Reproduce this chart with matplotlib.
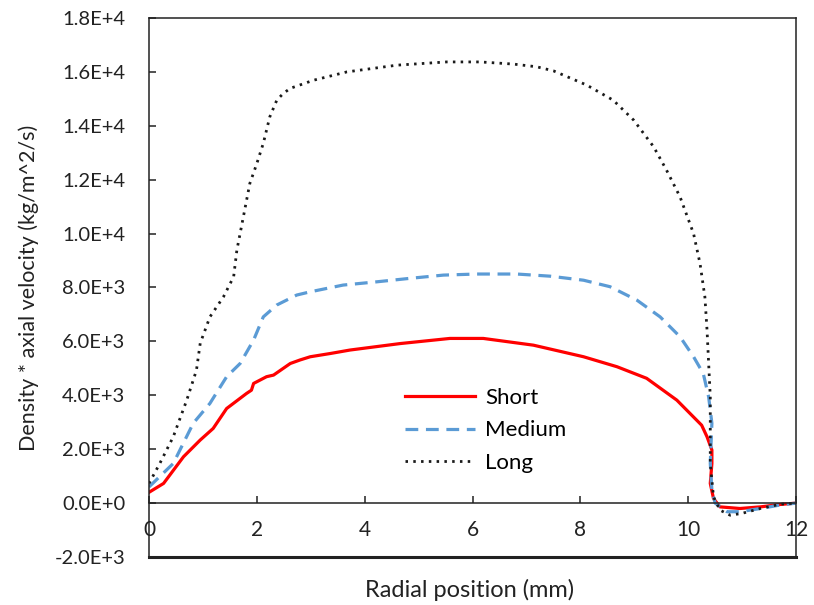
import matplotlib
matplotlib.use("Agg")
import matplotlib.pyplot as plt
from matplotlib.ticker import FuncFormatter, FixedLocator
import math

# ---- data ----
short_x = [0, 0.27, 0.64, 0.95, 1.19, 1.44, 1.81, 1.9, 1.94, 2.18, 2.31, 2.62, 2.80, 2.99, 3.36, 3.73,
           4.66, 5.58, 6.2, 7.13, 8.06, 8.68, 9.23, 9.79, 10.25, 10.35, 10.44, 10.44, 10.41, 10.47,
           10.59, 10.96, 11.34, 11.71, 12.0]
short_y = [400, 730, 1720, 2340, 2770, 3510, 4070, 4190, 4440, 4690, 4750, 5180, 5310, 5430, 5550, 5680,
           5920, 6110, 6110, 5860, 5430, 5060, 4630, 3820, 2890, 2460, 1970, 1470, 730, 170,
           -140, -200, -140, -50, 0]

medium_x = [0, 0.45, 0.82, 1.13, 1.44, 1.69, 1.94, 2.12, 2.37, 2.74, 2.99, 3.6, 4.22, 4.84, 5.46, 6.08,
            6.82, 7.44, 8.06, 8.55, 9.05, 9.48, 9.85, 10.1, 10.28, 10.38, 10.44, 10.41, 10.44, 10.5,
            10.72, 10.96, 11.34, 11.71, 12.0]
medium_y = [600, 1470, 2960, 3700, 4690, 5180, 6050, 6910, 7350, 7720, 7840, 8090, 8210, 8340, 8460, 8500,
            8500, 8420, 8270, 8030, 7530, 6910, 6170, 5430, 4810, 3940, 2960, 1480, 480, 0,
            -320, -320, -200, -70, 0]

long_x = [0, 0.2, 0.45, 0.7, 0.88, 0.95, 1.13, 1.38, 1.57, 1.63, 1.75, 1.87, 2.0, 2.12, 2.24, 2.37,
          2.49, 2.62, 3.05, 3.67, 4.6, 5.52, 6.14, 6.76, 7.19, 7.5, 8.12, 8.61, 8.99, 9.36, 9.6, 9.85,
          10.1, 10.22, 10.31, 10.35, 10.41, 10.41, 10.47, 10.59, 10.78, 11.0, 11.34, 11.71, 12.0]
long_y = [730, 1470, 2460, 3820, 4930, 5930, 6910, 7650, 8400, 9390, 10620, 11860, 12600, 13350, 14330, 14950,
          15200, 15390, 15690, 16000, 16250, 16370, 16370, 16290, 16190, 16040, 15510, 14950, 14210, 13220,
          12350, 11360, 10000, 8890, 7650, 6420, 3940, 1470, 230, -260, -450, -380, -200, -40, 0]

series_labels = ["Short", "Medium", "Long"]
x_ticks = [0, 2, 4, 6, 8, 10, 12]
y_ticks = [-2000, 0, 2000, 4000, 6000, 8000, 10000, 12000, 14000, 16000, 18000]
x_label = "Radial position (mm)"
y_label = "Density * axial velocity (kg/m^2/s)"

plt.rcParams['font.family'] = ['Lato', 'DejaVu Sans']

fig = plt.figure(figsize=(8.14, 6.05), dpi=100)
ax = fig.add_axes([149/814, 1-557/605, (796-149)/814, (557-18)/605])

ax.plot(short_x, short_y, color="#FF0000", lw=2.3, label=series_labels[0])
ax.plot(medium_x, medium_y, color="#5B9BD5", lw=2.3, linestyle=(0, (4, 2.4)), label=series_labels[1])
ax.plot(long_x, long_y, color="#1a1a1a", lw=2.0, linestyle=(0, (0.9, 1.9)), label=series_labels[2])

ax.set_xlim(0, 12)
ax.set_ylim(-2000, 18000)

ax.spines['bottom'].set_position(('data', 0))
for s in ['left', 'right', 'top', 'bottom']:
    ax.spines[s].set_color('#222222')
    ax.spines[s].set_linewidth(1.1)
ax.axhline(-2000, color='#222222', lw=2.2, clip_on=False)

ax.xaxis.set_major_locator(FixedLocator(x_ticks))
ax.yaxis.set_major_locator(FixedLocator(y_ticks))


def fmt(v, pos):
    if v == 0:
        return "0.0E+0"
    e = int(math.floor(math.log10(abs(v))))
    m = v / 10**e
    return f"{m:.1f}E+{e}"


ax.yaxis.set_major_formatter(FuncFormatter(fmt))
ax.xaxis.set_major_formatter(FuncFormatter(lambda v, p: f"{int(v)}"))
ax.tick_params(axis='x', direction='in', length=5, width=1.1, pad=12, labelsize=15, colors='#222222')
ax.tick_params(axis='y', direction='in', length=5, width=1.1, pad=17, labelsize=14.5, colors='#222222')

ax.set_xlabel(x_label, fontsize=17, color='#222222')
ax.xaxis.set_label_coords(0.495, -0.04)
ax.set_ylabel(y_label, fontsize=15.5, color='#222222')
ax.yaxis.set_label_coords(-0.17, 0.5)

ax.legend(loc='upper left', bbox_to_anchor=(396/814, 1-379/605), bbox_transform=fig.transFigure,
          frameon=False, fontsize=16, handlelength=3.15, handletextpad=0.45, labelspacing=0.56,
          borderaxespad=0)

fig.savefig("out.png", dpi=100)
